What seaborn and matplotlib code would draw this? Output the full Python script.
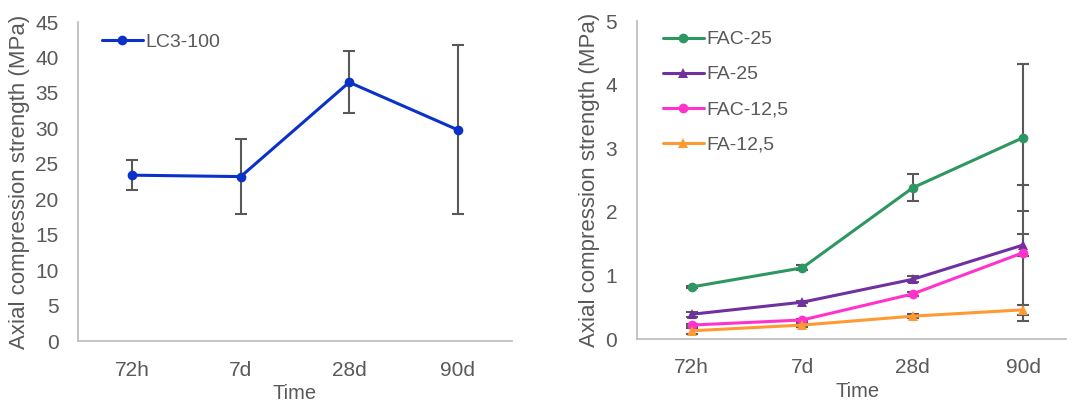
import matplotlib
matplotlib.use("Agg")
import matplotlib.pyplot as plt
import numpy as np
import pandas as pd
import seaborn as sns

# --- data ---
times = ["72h", "7d", "28d", "90d"]

lc3_100 = [23.4, 23.2, 36.5, 29.8]
lc3_100_err = [2.1, 5.3, 4.35, 11.9]

fac_25 = [0.82, 1.12, 2.38, 3.17]
fac_25_err = [0.02, 0.04, 0.21, 1.16]
fa_25 = [0.39, 0.58, 0.94, 1.48]
fa_25_err = [0.04, 0.02, 0.05, 0.17]
fac_12_5 = [0.22, 0.30, 0.71, 1.36]
fac_12_5_err = [0.02, 0.02, 0.03, 1.07]
fa_12_5 = [0.13, 0.22, 0.36, 0.46]
fa_12_5_err = [0.05, 0.03, 0.03, 0.08]

right_series = ["FAC-25", "FA-25", "FAC-12,5", "FA-12,5"]
right_values = [fac_25, fa_25, fac_12_5, fa_12_5]
right_errors = [fac_25_err, fa_25_err, fac_12_5_err, fa_12_5_err]

colors = {"LC3-100": "#0A32C8", "FAC-25": "#2E9660", "FA-25": "#7030A0",
          "FAC-12,5": "#FF33CC", "FA-12,5": "#FF9933"}
markers = {"LC3-100": "o", "FAC-25": "o", "FA-25": "^",
           "FAC-12,5": "o", "FA-12,5": "^"}

df_left = pd.DataFrame({"Time": times, "Strength": lc3_100,
                        "Err": lc3_100_err, "Series": "LC3-100"})
df_right = pd.concat([
    pd.DataFrame({"Time": times, "Strength": v, "Err": e, "Series": s})
    for s, v, e in zip(right_series, right_values, right_errors)
], ignore_index=True)

sns.set_theme(style="white")
plt.rcParams["font.family"] = ["Liberation Sans", "DejaVu Sans"]
text_col = "#595959"

fig = plt.figure(figsize=(10.9, 4.08), dpi=100)
ax1 = fig.add_axes([0.0716, 0.164, 0.398, 0.782])
ax2 = fig.add_axes([0.584, 0.169, 0.4055, 0.779])


def draw(ax, df, order):
    for s in order:
        sub = df[df["Series"] == s]
        ax.errorbar(sub["Time"], sub["Strength"], yerr=sub["Err"], fmt="none",
                    ecolor="#595959", elinewidth=1.5, capsize=4, capthick=1.5,
                    zorder=1)
    sns.lineplot(data=df, x="Time", y="Strength", hue="Series",
                 hue_order=order, style="Series", style_order=order,
                 markers=markers, dashes=False, palette=colors,
                 markersize=7, markeredgewidth=0, linewidth=2.2,
                 sort=False, ax=ax, zorder=3)


draw(ax1, df_left, ["LC3-100"])
draw(ax2, df_right, right_series)

for ax, top, step in [(ax1, 45, 5), (ax2, 5, 1)]:
    ax.set_xlim(-0.5, 3.5)
    ax.set_ylim(0, top)
    ax.set_yticks(np.arange(0, top + step, step))
    ax.set_xlabel("Time", fontsize=14.5, color=text_col, labelpad=3)
    ax.set_ylabel("Axial compression strength (MPa)", fontsize=16,
                  color=text_col, labelpad=4)
    ax.tick_params(axis="y", length=0, labelsize=15, colors=text_col,
                   pad=14)
    ax.tick_params(axis="x", length=0, labelsize=15, colors=text_col,
                   pad=14)
    for side in ["top", "right"]:
        ax.spines[side].set_visible(False)
    for side in ["left", "bottom"]:
        ax.spines[side].set_color("#BFBFBF")
        ax.spines[side].set_linewidth(1.3)
    ax.legend(loc="upper left", frameon=False, fontsize=14,
              handlelength=2.1, handletextpad=0.15, labelspacing=0.9,
              labelcolor=text_col)

ax1.legend_.set_bbox_to_anchor((0.015, 1.02))
ax2.legend_.set_bbox_to_anchor((0.02, 1.025))
ax2.spines["bottom"].set_bounds(-0.5, 3.39)

fig.savefig("out.png", dpi=100)
